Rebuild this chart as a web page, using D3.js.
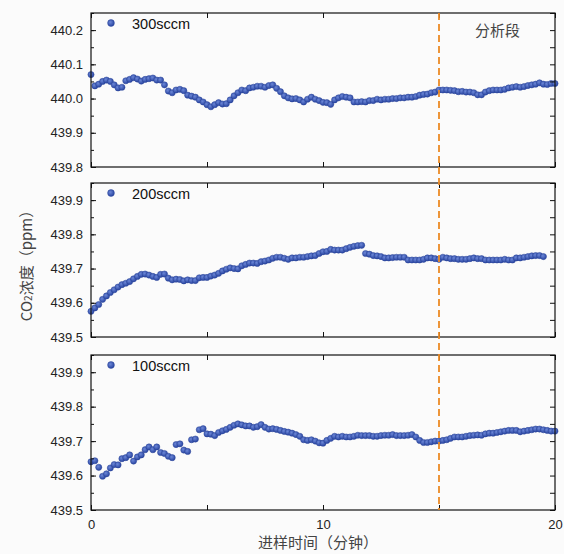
<!DOCTYPE html>
<html>
<head>
<meta charset="utf-8">
<script src="https://cdn.jsdelivr.net/npm/d3@7"></script>
<style>
  html, body { margin: 0; padding: 0; background: #fbfbfb; }
  svg { display: block; }
  .tick-label { font-family: Arial, "Liberation Sans", sans-serif; font-size: 13px; fill: #222; }
  .legend-text { font-family: Arial, "Liberation Sans", sans-serif; font-size: 14.5px; fill: #111; }
  .cjk { font-family: "Noto Sans CJK SC", "Noto Sans", sans-serif; font-size: 15px; fill: #444; }
</style>
</head>
<body>
<svg id="chart"></svg>
<script>
const width = 564;
const height = 554;

// sampling interval: one point every 10 s
const stepMin = 1 / 6;

const seriesNames = ["300sccm", "200sccm", "100sccm"];

const flow300 = [
  440.070, 440.037, 440.042, 440.050, 440.054, 440.050, 440.040, 440.031, 440.033, 440.052,
  440.056, 440.061, 440.057, 440.051, 440.056, 440.058, 440.060, 440.054, 440.054, 440.040,
  440.022, 440.017, 440.025, 440.027, 440.023, 440.010, 440.007, 440.004, 439.996, 439.990,
  439.982, 439.976, 439.982, 439.988, 439.984, 439.985, 439.996, 440.008, 440.017, 440.025,
  440.023, 440.031, 440.033, 440.036, 440.036, 440.033, 440.038, 440.040, 440.030, 440.020,
  440.008, 440.002, 439.999, 440.000, 439.996, 439.990, 439.998, 440.004, 439.998, 439.994,
  439.989, 439.988, 439.983, 439.996, 440.002, 440.006, 440.004, 440.002, 439.990, 439.990,
  439.991, 439.990, 439.994, 439.994, 439.998, 439.996, 439.998, 439.998, 440.000, 440.000,
  440.002, 440.002, 440.004, 440.004, 440.006, 440.010, 440.012, 440.013, 440.017, 440.019,
  440.025, 440.025, 440.025, 440.024, 440.023, 440.020, 440.021, 440.019, 440.019, 440.017,
  440.011, 440.011, 440.019, 440.023, 440.025, 440.025, 440.025, 440.027, 440.031, 440.033,
  440.035, 440.033, 440.035, 440.038, 440.040, 440.042, 440.046, 440.042, 440.041, 440.044,
  440.044
];

const flow200 = [
  439.575, 439.585, 439.595, 439.610, 439.620, 439.630, 439.638, 439.646, 439.653, 439.657,
  439.662, 439.670, 439.677, 439.683, 439.684, 439.681, 439.677, 439.674, 439.683, 439.684,
  439.672, 439.667, 439.669, 439.668, 439.664, 439.667, 439.665, 439.665, 439.673, 439.674,
  439.674, 439.678, 439.681, 439.686, 439.693, 439.698, 439.702, 439.700, 439.699, 439.708,
  439.712, 439.716, 439.716, 439.715, 439.720, 439.722, 439.725, 439.730, 439.733, 439.733,
  439.730, 439.727, 439.731, 439.731, 439.733, 439.733, 439.735, 439.737, 439.738, 439.744,
  439.749, 439.750, 439.756, 439.754, 439.754, 439.754, 439.758, 439.762, 439.765, 439.767,
  439.768, 439.744, 439.742, 439.738, 439.737, 439.735, 439.731, 439.731, 439.732, 439.733,
  439.733, 439.733, 439.725, 439.725, 439.725, 439.725, 439.727, 439.731, 439.731, 439.729,
  439.727, 439.733, 439.731, 439.729, 439.729, 439.727, 439.727, 439.727, 439.729, 439.731,
  439.729, 439.729, 439.725, 439.725, 439.725, 439.725, 439.725, 439.727, 439.725, 439.725,
  439.731, 439.731, 439.733, 439.735, 439.737, 439.738, 439.738, 439.735
];

const flow100 = [
  439.640, 439.643, 439.624, 439.598, 439.605, 439.622, 439.632, 439.631, 439.649, 439.652,
  439.660, 439.642, 439.654, 439.660, 439.675, 439.683, 439.675, 439.683, 439.667, 439.664,
  439.656, 439.652, 439.690, 439.692, 439.674, 439.670, 439.704, 439.706, 439.733, 439.736,
  439.721, 439.720, 439.716, 439.725, 439.730, 439.734, 439.740, 439.746, 439.750, 439.747,
  439.744, 439.744, 439.740, 439.742, 439.748, 439.740, 439.735, 439.736, 439.734, 439.731,
  439.728, 439.726, 439.723, 439.719, 439.714, 439.704, 439.702, 439.704, 439.700, 439.695,
  439.694, 439.702, 439.708, 439.714, 439.712, 439.714, 439.712, 439.712, 439.714, 439.717,
  439.716, 439.716, 439.716, 439.714, 439.714, 439.716, 439.717, 439.717, 439.719, 439.716,
  439.716, 439.716, 439.717, 439.719, 439.712, 439.702, 439.696, 439.696, 439.698, 439.700,
  439.700, 439.702, 439.704, 439.708, 439.712, 439.712, 439.712, 439.714, 439.716, 439.717,
  439.718, 439.717, 439.721, 439.723, 439.723, 439.725, 439.727, 439.729, 439.731, 439.731,
  439.731, 439.727, 439.729, 439.731, 439.733, 439.735, 439.735, 439.733, 439.731, 439.729,
  439.729
];

const yDomains = [[439.8, 440.25], [439.5, 439.95], [439.5, 439.95]];
const yTicks = [
  [439.8, 439.9, 440.0, 440.1, 440.2],
  [439.5, 439.6, 439.7, 439.8, 439.9],
  [439.5, 439.6, 439.7, 439.8, 439.9]
];
const xTicks = [0, 10, 20];
const xMinorTicks = [5, 15];
const splitTime = 15;

const xTitle = "进样时间（分钟）";
const splitLabel = "分析段";

const panels = [
  { name: seriesNames[0], values: flow300, top: 13, bottom: 167 },
  { name: seriesNames[1], values: flow200, top: 183, bottom: 337 },
  { name: seriesNames[2], values: flow100, top: 355, bottom: 510 }
];

const left = 91;
const right = 555;

const svg = d3.select("#chart").attr("width", width).attr("height", height);

const defs = svg.append("defs");
const grad = defs.append("radialGradient")
  .attr("id", "dot")
  .attr("cx", "40%").attr("cy", "38%").attr("r", "60%");
grad.append("stop").attr("offset", "0%").attr("stop-color", "#6b86d6");
grad.append("stop").attr("offset", "100%").attr("stop-color", "#2b47a3");

const x = d3.scaleLinear().domain([0, 20]).range([left, right]);

panels.forEach((p, k) => {
  const y = d3.scaleLinear().domain(yDomains[k]).range([p.bottom, p.top]);
  const g = svg.append("g");

  const pts = p.values.map((v, i) => ({ t: i * stepMin, v: v }));

  g.append("g")
    .selectAll("circle")
    .data(pts)
    .join("circle")
    .attr("cx", (d) => x(d.t))
    .attr("cy", (d) => y(d.v))
    .attr("r", 3.1)
    .attr("fill", "url(#dot)")
    .attr("stroke", "#2a4499")
    .attr("stroke-width", 0.5);

  // left axis (ticks inward)
  const yMinor = d3.range(yDomains[k][0], yDomains[k][1] + 0.001, 0.05);
  const leftAxis = d3.axisLeft(y).tickValues(yTicks[k]).tickSize(-5).tickPadding(8)
    .tickFormat(d3.format(".1f"));
  const la = g.append("g").attr("transform", `translate(${left},0)`).call(leftAxis);
  la.select(".domain").remove();
  la.selectAll("text").attr("class", "tick-label").attr("fill", null).attr("font-size", null).attr("font-family", null);
  la.selectAll("line").attr("stroke", "#111");
  g.append("g").attr("transform", `translate(${left},0)`)
    .call(d3.axisLeft(y).tickValues(yMinor).tickSize(-3).tickFormat(""))
    .call((s) => s.select(".domain").remove())
    .selectAll("line").attr("stroke", "#111");

  // right axis
  g.append("g").attr("transform", `translate(${right},0)`)
    .call(d3.axisRight(y).tickValues(yMinor).tickSize(-5).tickFormat(""))
    .call((s) => s.select(".domain").remove())
    .selectAll("line").attr("stroke", "#111");

  // top and bottom x ticks
  const xAll = xTicks.concat(xMinorTicks);
  g.append("g").attr("transform", `translate(0,${p.top})`)
    .call(d3.axisTop(x).tickValues(xAll).tickSize(-5).tickFormat(""))
    .call((s) => s.select(".domain").remove())
    .selectAll("line").attr("stroke", "#111");
  const bottomAxis = d3.axisBottom(x).tickValues(xAll).tickSize(-5).tickPadding(10)
    .tickFormat((d) => (k === 2 && xTicks.includes(d) ? d : ""));
  const ba = g.append("g").attr("transform", `translate(0,${p.bottom})`).call(bottomAxis);
  ba.select(".domain").remove();
  ba.selectAll("line").attr("stroke", "#111");
  ba.selectAll("text").attr("class", "tick-label").attr("fill", null).attr("font-size", null).attr("font-family", null);

  // frame
  g.append("rect")
    .attr("x", left).attr("y", p.top)
    .attr("width", right - left).attr("height", p.bottom - p.top)
    .attr("fill", "none").attr("stroke", "#111").attr("stroke-width", 1.2);

  // legend
  g.append("circle")
    .attr("cx", 111).attr("cy", p.top + 10)
    .attr("r", 3.4).attr("fill", "url(#dot)").attr("stroke", "#2a4499").attr("stroke-width", 0.5);
  g.append("text")
    .attr("class", "legend-text")
    .attr("x", 132).attr("y", p.top + 15.5)
    .text(p.name);
});

// analysis segment divider
svg.append("line")
  .attr("x1", x(splitTime)).attr("x2", x(splitTime))
  .attr("y1", panels[0].top).attr("y2", panels[2].bottom)
  .attr("stroke", "#ec8a25").attr("stroke-width", 1.8)
  .attr("stroke-dasharray", "7,4");

svg.append("text")
  .attr("class", "cjk")
  .attr("x", 475).attr("y", 36)
  .attr("fill", "#333")
  .text(splitLabel);

svg.append("text")
  .attr("class", "cjk")
  .attr("x", 318).attr("y", 548)
  .attr("text-anchor", "middle")
  .text(xTitle);

const yTitle = svg.append("text")
  .attr("class", "cjk")
  .attr("transform", "translate(32,262) rotate(-90)")
  .attr("text-anchor", "middle");
yTitle.append("tspan").text("CO");
yTitle.append("tspan").attr("font-size", "10px").text("2");
yTitle.append("tspan").text("浓度（ppm）");
</script>
</body>
</html>
